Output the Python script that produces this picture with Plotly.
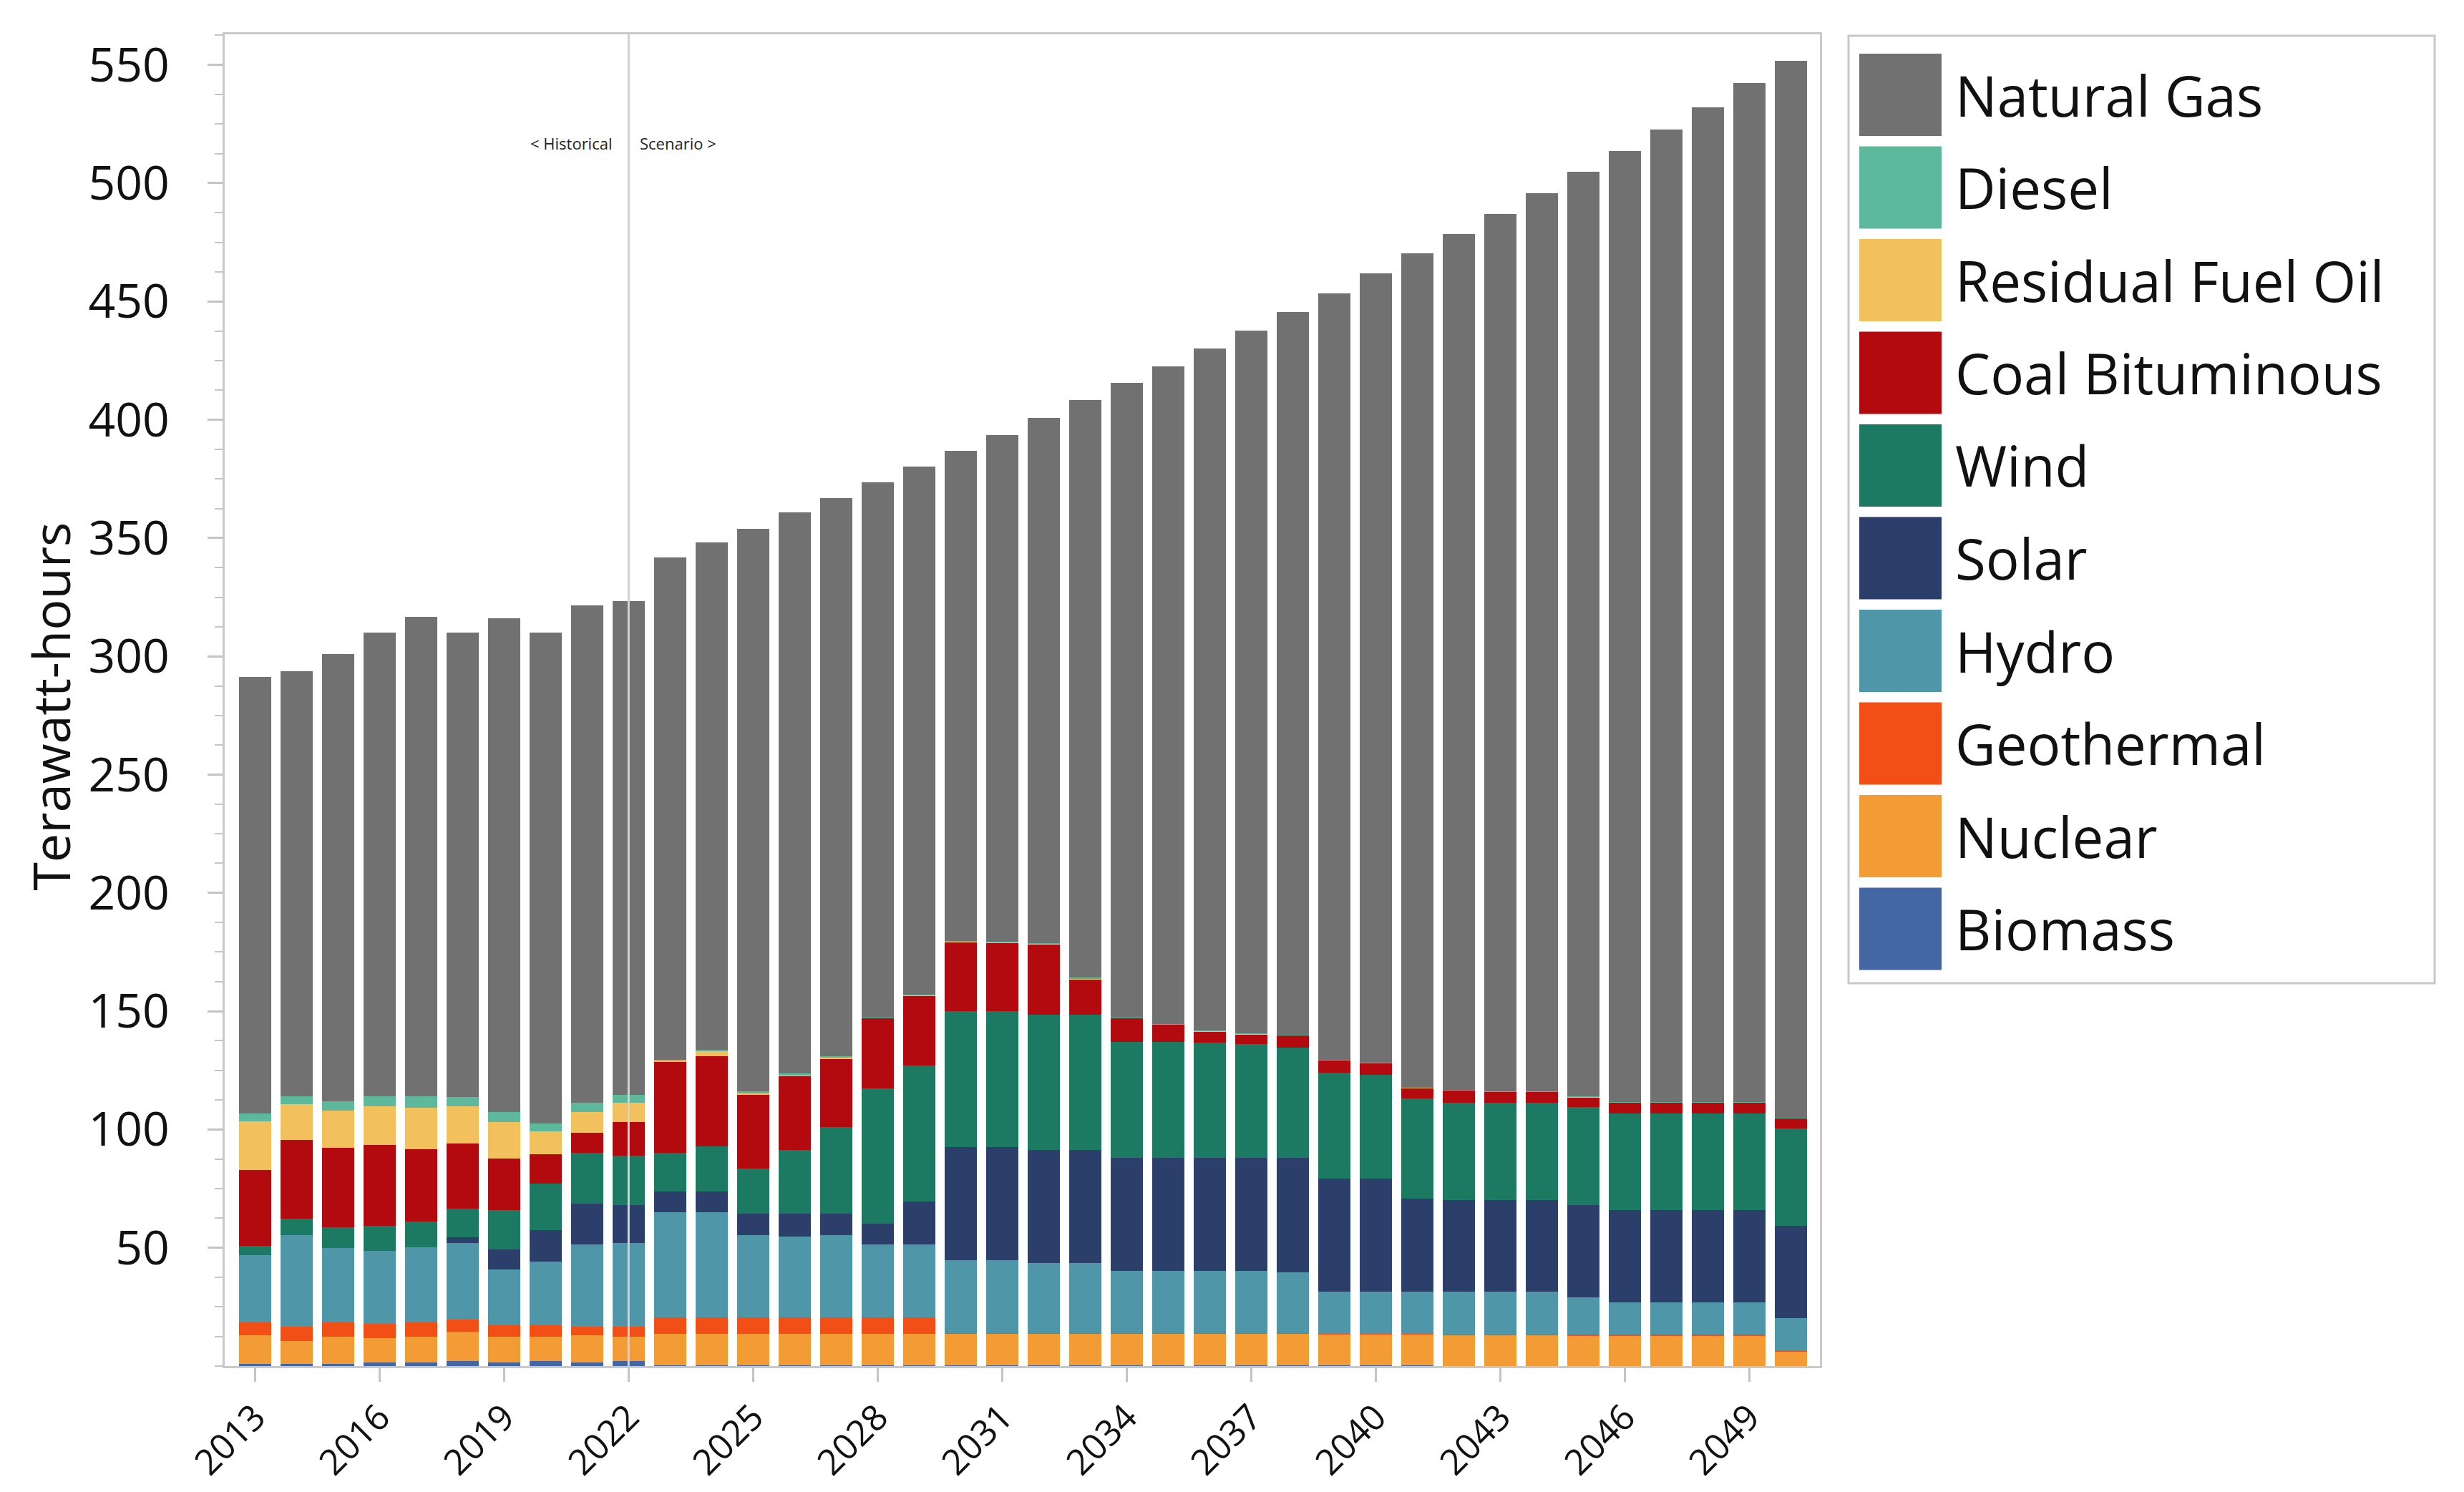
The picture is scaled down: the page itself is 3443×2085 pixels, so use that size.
import plotly.graph_objects as go

# ---- data (TWh) ----
years = list(range(2013, 2051))

biomass = [0.8, 0.8, 0.8, 1.4, 1.4, 2.0, 1.4, 2.0, 1.4, 2.0,
           0.3, 0.3, 0.3, 0.3, 0.3, 0.3, 0.3, 0.3, 0.3, 0.3,
           0.3, 0.3, 0.3, 0.3, 0.3, 0.3, 0.3, 0.3, 0.3, 0, 0,
           0, 0, 0, 0, 0, 0, 0]
nuclear = [12.1, 9.8, 11.5, 10.3, 10.9, 12.6, 10.9, 10.3, 11.5, 10.3,
           13.2, 13.2, 13.2, 13.2, 13.3, 13.4, 13.4, 13.4, 13.4, 13.4,
           13.4, 13.4, 13.4, 13.4, 13.4, 13.4, 13.1, 13.1, 13.1, 13.1, 13.1,
           13.1, 13.0, 13.0, 13.0, 13.0, 13.0, 6.3]
geothermal = [5.5, 6.1, 6.1, 6.2, 6.1, 5.0, 5.0, 5.0, 3.8, 4.4,
              7.2, 7.2, 7.2, 7.2, 7.1, 7.0, 7.0, 0.3, 0.3, 0.3,
              0.3, 0.3, 0.3, 0.3, 0.3, 0.3, 0.2, 0.2, 0.2, 0.3, 0.3,
              0.3, 0.3, 0.3, 0.3, 0.3, 0.3, 0.2]
hydro = [28.6, 38.8, 31.4, 30.9, 31.9, 32.4, 23.6, 26.9, 34.8, 35.4,
         44.2, 44.2, 34.8, 34.2, 34.6, 30.6, 30.6, 30.7, 30.7, 29.6,
         29.6, 26.2, 26.2, 26.2, 26.2, 25.7, 17.8, 17.8, 17.8, 18.0, 18.0,
         18.0, 15.7, 13.6, 13.6, 13.6, 13.6, 13.7]
solar = [0, 0, 0, 0, 0, 2.3, 8.3, 13.4, 17.3, 16.1,
         9.0, 9.0, 8.9, 9.5, 9.0, 9.0, 18.4, 47.8, 47.8, 47.7,
         47.7, 47.8, 47.8, 47.8, 47.8, 48.3, 47.8, 47.8, 39.4, 38.8, 38.8,
         38.8, 39.1, 39.0, 39.0, 39.0, 39.0, 39.0]
wind = [3.9, 6.7, 9.0, 10.6, 10.8, 12.3, 16.8, 19.6, 21.3, 20.7,
        16.2, 19.0, 19.0, 26.8, 36.7, 57.2, 57.2, 57.4, 57.4, 57.3,
        57.3, 49.1, 49.1, 48.6, 48.0, 46.7, 44.9, 43.9, 42.2, 41.2, 41.2,
        41.2, 41.3, 41.0, 41.0, 41.0, 41.0, 41.1]
coal = [31.9, 33.5, 33.6, 34.1, 30.7, 27.5, 21.8, 12.3, 8.4, 14.1,
        38.6, 38.0, 31.3, 31.4, 29.0, 29.5, 29.6, 29.4, 29.1, 29.7,
        14.9, 10.0, 7.3, 4.9, 4.3, 5.2, 5.2, 4.9, 4.6, 5.1, 4.6,
        4.6, 4.3, 4.5, 4.5, 4.5, 4.5, 4.5]
residual = [20.7, 15.1, 15.7, 16.2, 17.3, 15.6, 15.2, 9.6, 8.9, 8.4,
            0.5, 2.3, 0.8, 0.4, 0.6, 0.2, 0.2, 0.2, 0.2, 0.2,
            0.4, 0.1, 0.1, 0.1, 0.1, 0.1, 0.1, 0.1, 0.1, 0.1, 0.1,
            0.1, 0.1, 0.1, 0.1, 0.1, 0.1, 0.1]
diesel = [3.3, 3.3, 3.9, 4.4, 5.0, 4.0, 4.4, 3.3, 4.0, 3.3,
          0.2, 0.4, 0.5, 0.6, 0.4, 0.2, 0.2, 0.3, 0.3, 0.3,
          0.3, 0.2, 0.2, 0.2, 0.1, 0.1, 0.1, 0.1, 0.1, 0.1, 0.1,
          0.1, 0.1, 0.1, 0.1, 0.1, 0.1, 0.1]
natural_gas = [184.4, 179.6, 189.0, 195.9, 202.5, 196.3, 208.7, 207.6, 210.2, 208.7,
               212.3, 214.4, 238.0, 237.2, 235.9, 226.2, 223.4, 207.1, 214.1, 222.1,
               244.1, 268.1, 278.0, 288.2, 297.3, 305.4, 323.9, 333.6, 352.4, 361.8, 370.7,
               379.6, 390.8, 402.1, 411.0, 420.5, 430.7, 446.6]

# stacking order, bottom to top
series = [
    ("Biomass", biomass, "#4466a3"),
    ("Nuclear", nuclear, "#f39c36"),
    ("Geothermal", geothermal, "#f24f16"),
    ("Hydro", hydro, "#4f97a8"),
    ("Solar", solar, "#2c3f6b"),
    ("Wind", wind, "#1c7a62"),
    ("Coal Bituminous", coal, "#b30a10"),
    ("Residual Fuel Oil", residual, "#f2c05c"),
    ("Diesel", diesel, "#5db89c"),
    ("Natural Gas", natural_gas, "#717171"),
]

y_ticks = list(range(50, 551, 50))
x_ticks = list(range(2013, 2051, 3))
split_year = 2022

FONT = "Segoe UI, Open Sans, sans-serif"
W, H = 3443, 2085
ML, MR, MT, MB = 306, 908, 40, 184
PW, PH = W - ML - MR, H - MT - MB


def px_x(x):
    return (x - ML) / PW


def px_y(y):
    return (H - MB - y) / PH


fig = go.Figure()
for name, vals, color in series:
    fig.add_trace(go.Bar(x=years, y=vals, name=name,
                         marker=dict(color=color, line=dict(width=0)),
                         showlegend=False))

fig.update_layout(
    width=W, height=H,
    barmode="stack", bargap=0.23,
    plot_bgcolor="white", paper_bgcolor="white",
    margin=dict(l=ML, r=MR, t=MT, b=MB),
    font=dict(family=FONT, color="#111111"),
)

fig.update_xaxes(
    range=[2012.27, 2050.7],
    tickvals=x_ticks, tickangle=-45,
    tickfont=dict(size=50, color="#111111"),
    ticks="outside", ticklen=19, tickwidth=2.5, tickcolor="#c4c4c4",
    showgrid=False, zeroline=False,
    showline=True, linecolor="#c8c8c8", linewidth=3, mirror=True,
)
fig.update_yaxes(
    range=[0, 562.9],
    tickvals=y_ticks,
    tickfont=dict(size=66, color="#111111"),
    ticks="outside", ticklen=21, tickwidth=2.5, tickcolor="#c4c4c4",
    ticklabelstandoff=40,
    minor=dict(ticks="outside", ticklen=11, dtick=12.5, tick0=0,
               tickcolor="#c4c4c4", tickwidth=2),
    showgrid=False, zeroline=False,
    showline=True, linecolor="#c8c8c8", linewidth=3, mirror=True,
)

# historical / scenario divider
fig.add_shape(type="line", xref="x", yref="paper", x0=split_year, x1=split_year,
              y0=0, y1=1, line=dict(color="#d2d2d2", width=3), layer="above")
fig.add_annotation(x=split_year, y=517, xref="x", yref="y", text="< Historical",
                   showarrow=False, xanchor="right", xshift=-20,
                   font=dict(size=22, color="#222222"))
fig.add_annotation(x=split_year, y=517, xref="x", yref="y", text="Scenario >",
                   showarrow=False, xanchor="left", xshift=14,
                   font=dict(size=22, color="#222222"))

# y axis title
fig.add_annotation(x=px_x(62), y=0.495, xref="paper", yref="paper",
                   text="Terawatt-hours", textangle=-90, showarrow=False,
                   xanchor="center", yanchor="middle",
                   font=dict(size=72, color="#111111"))

# legend with big swatches (top item = Natural Gas)
fig.add_shape(type="rect", xref="paper", yref="paper",
              x0=px_x(2575), x1=px_x(3394), y0=px_y(1366), y1=px_y(42),
              line=dict(color="#c8c8c8", width=3), fillcolor="white")
for i, (name, vals, color) in enumerate(reversed(series)):
    top = 67 + 129.5 * i
    fig.add_shape(type="rect", xref="paper", yref="paper",
                  x0=px_x(2590), x1=px_x(2705), y0=px_y(top + 115), y1=px_y(top),
                  line=dict(width=0), fillcolor=color)
    fig.add_annotation(x=px_x(2722), y=px_y(top + 57.5), xref="paper", yref="paper",
                       text=name, showarrow=False, xanchor="left", yanchor="middle",
                       font=dict(size=78, color="#111111"))

fig.write_html("out.html")
